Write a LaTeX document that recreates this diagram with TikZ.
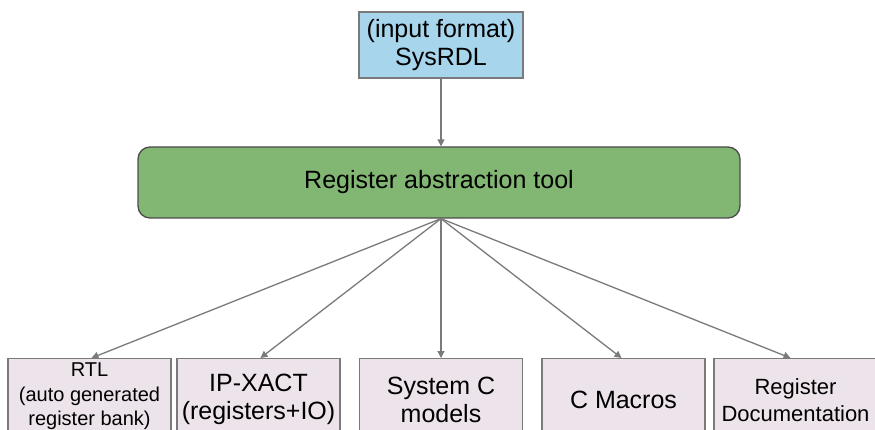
\documentclass[tikz,border=0pt]{standalone}
\usepackage{fontspec}
\setmainfont{Liberation Sans}
\usetikzlibrary{arrows.meta}

\definecolor{inputblue}{HTML}{A6D5EC}
\definecolor{toolgreen}{HTML}{82B673}
\definecolor{outpink}{HTML}{EDE3EA}
\definecolor{edgegray}{HTML}{7A7A7A}
\definecolor{linkgray}{HTML}{7A7A7A}

\tikzset{
  inbox/.style={draw=edgegray, line width=1.3pt, fill=inputblue, align=center,
    minimum width=164, minimum height=66, inner sep=0pt,
    font=\fontsize{25}{28}\selectfont},
  toolbox/.style={draw=black!70, line width=1.3pt, fill=toolgreen, rounded corners=12,
    minimum width=602, minimum height=71, inner sep=0pt,
    font=\fontsize{25}{28}\selectfont},
  outbox/.style={draw=edgegray, line width=1.3pt, fill=outpink, align=center,
    anchor=north, minimum width=163, minimum height=82, inner sep=0pt,
    font=\fontsize{25}{28}\selectfont},
  link/.style={draw=linkgray, line width=1.3pt,
    -{Triangle[length=7pt, width=7pt]}},
}

\begin{document}
\begin{tikzpicture}[x=1pt, y=-1pt]
  \useasboundingbox (0,0) rectangle (875,430);
  \clip (0,0) rectangle (875,430);

  % input description and the generator
  \node[inbox] (input) at (441,45) {(input format)\\SysRDL};
  \node[toolbox] (tool) at (439,182.5) {Register abstraction tool};

  % generated outputs
  \node[outbox, minimum height=76, font=\fontsize{20}{24.5}\selectfont] (rtl) at (89.5,358)
    {RTL\\(auto generated\\register bank)};
  \node[outbox] (ipxact) at (258.5,358) {IP-XACT\\(registers+IO)};
  \node[outbox] (sysc) at (441,358) {System C\\models};
  \node[outbox] (cmac) at (623.5,358) {C Macros};
  \node[outbox, font=\fontsize{22}{27}\selectfont] (regdoc) at (795.5,358)
    {Register\\Documentation};

  % connectors
  \coordinate (hub) at ([xshift=2]tool.south);
  \draw[link] (input.south) -- (input.south |- tool.north);
  \draw[link] (hub) -- ([xshift=2]rtl.north);
  \draw[link] (hub) -- ([xshift=2]ipxact.north);
  \draw[link] (hub) -- (sysc.north);
  \draw[link] (hub) -- ([xshift=-2]cmac.north);
  \draw[link] (hub) -- ([xshift=-5]regdoc.north);
\end{tikzpicture}
\end{document}
